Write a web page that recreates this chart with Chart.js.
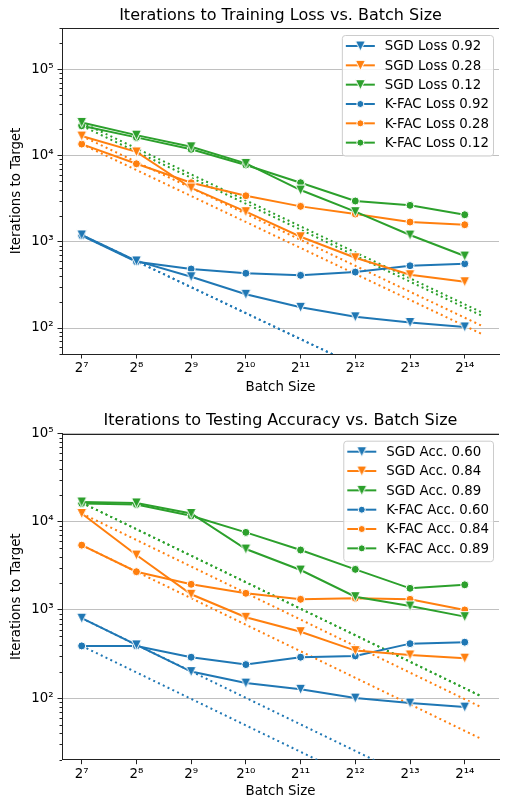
<!DOCTYPE html>
<html>
<head>
<meta charset="utf-8">
<script src="https://cdn.jsdelivr.net/npm/chart.js@4.4.1/dist/chart.umd.min.js"></script>
<style>
  body { margin: 0; background: #fff; }
  canvas { display: block; }
</style>
</head>
<body>
<canvas id="trainChart" width="506" height="400"></canvas>
<canvas id="testChart" width="506" height="400"></canvas>
<script>
// batch size exponents (2^7 ... 2^14)
const batchExp = [7, 8, 9, 10, 11, 12, 13, 14];
const xTickLabels = ["2⁷", "2⁸", "2⁹", "2¹⁰", "2¹¹", "2¹²", "2¹³", "2¹⁴"];
const yTickLabels = { 2: "10²", 3: "10³", 4: "10⁴", 5: "10⁵" };

// ideal-scaling dotted lines run between these two x positions
const idealExp = [7, 14.3];

// top: iterations to training loss
const trainLabels = ["SGD Loss 0.92", "SGD Loss 0.28", "SGD Loss 0.12",
                     "K-FAC Loss 0.92", "K-FAC Loss 0.28", "K-FAC Loss 0.12"];
const sgdLoss092 = [1200, 600, 393, 246, 174, 135, 116, 103];
const sgdLoss028 = [16800, 11000, 4200, 2230, 1143, 653, 415, 344];
const sgdLoss012 = [24150, 17200, 12600, 8090, 3975, 2230, 1196, 683];
const kfacLoss092 = [1175, 586, 483, 431, 408, 445, 527, 556];
const kfacLoss028 = [13550, 8010, 4830, 3410, 2570, 2094, 1692, 1574];
const kfacLoss012 = [22070, 16200, 11780, 7740, 4830, 2965, 2640, 2055];
const idealSgdLoss092 = [1190, 7.55];
const idealSgdLoss028 = [16800, 107];
const idealSgdLoss012 = [24150, 153];
const idealKfacLoss092 = [1190, 7.55];
const idealKfacLoss028 = [13550, 86];
const idealKfacLoss012 = [22070, 140];

// bottom: iterations to testing accuracy
const testLabels = ["SGD Acc. 0.60", "SGD Acc. 0.84", "SGD Acc. 0.89",
                    "K-FAC Acc. 0.60", "K-FAC Acc. 0.84", "K-FAC Acc. 0.89"];
const sgdAcc060 = [806, 402, 200, 148, 126, 100, 88, 79];
const sgdAcc084 = [12450, 4200, 1507, 826, 567, 346, 309, 284];
const sgdAcc089 = [16800, 16400, 12450, 4910, 2840, 1415, 1110, 840];
const kfacAcc060 = [391, 391, 291, 240, 291, 301, 415, 431];
const kfacAcc084 = [5440, 2717, 1955, 1546, 1321, 1356, 1321, 1000];
const kfacAcc089 = [16150, 15730, 11700, 7590, 4790, 2890, 1760, 1930];
const idealSgdAcc060 = [806, 5.1];
const idealSgdAcc084 = [12450, 79];
const idealSgdAcc089 = [16500, 105];
const idealKfacAcc060 = [391, 2.5];
const idealKfacAcc084 = [5440, 34.5];
const idealKfacAcc089 = [16500, 105];

const colors = ["#1f77b4", "#ff7f0e", "#2ca02c"];
const FONT = "'DejaVu Sans', sans-serif";
const SPINE = "#222";

// matplotlib-like "v" marker with a white edge
function triMarker(color) {
  const c = document.createElement("canvas");
  c.width = 13; c.height = 13;
  const g = c.getContext("2d");
  const h = 5;
  g.beginPath();
  g.moveTo(6.5 - h, 6.5 - h);
  g.lineTo(6.5 + h, 6.5 - h);
  g.lineTo(6.5, 6.5 + h);
  g.closePath();
  g.fillStyle = color;
  g.fill();
  g.strokeStyle = "#fff";
  g.lineWidth = 1;
  g.stroke();
  return c;
}
const triMarkers = colors.map(triMarker);

const toPoints = (xs, ys) => xs.map((x, i) => ({ x, y: ys[i] }));

function solid(label, values, ci, sgd) {
  return {
    label,
    inLegend: true,
    data: toPoints(batchExp, values),
    borderColor: colors[ci],
    backgroundColor: colors[ci],
    borderWidth: 2,
    pointStyle: sgd ? triMarkers[ci] : "circle",
    pointRadius: sgd ? 6 : 4,
    pointBackgroundColor: colors[ci],
    pointBorderColor: "#fff",
    pointBorderWidth: 1,
    tension: 0,
    clip: 0,
  };
}

function dotted(values, ci) {
  return {
    label: "",
    data: toPoints(idealExp, values),
    borderColor: colors[ci],
    borderWidth: 2,
    borderDash: [2, 3.3],
    borderCapStyle: "butt",
    pointRadius: 0,
    tension: 0,
    clip: 0,
  };
}

const isPow10 = (v) => {
  const e = Math.log10(v);
  return Math.abs(e - Math.round(e)) < 1e-9;
};

// minor y ticks, top spine and the inset legend
const axesExtras = {
  id: "axesExtras",
  afterDraw(chart) {
    const { ctx, chartArea } = chart;
    const y = chart.scales.y;
    ctx.save();
    ctx.strokeStyle = SPINE;
    ctx.lineWidth = 1;
    ctx.beginPath();
    y.ticks.forEach((t) => {
      if (isPow10(t.value)) return;
      const py = Math.round(y.getPixelForValue(t.value)) + 0.5;
      ctx.moveTo(chartArea.left - 2.5, py);
      ctx.lineTo(chartArea.left, py);
    });
    const top = Math.round(chartArea.top) + 0.5;
    ctx.moveTo(chartArea.left, top);
    ctx.lineTo(chartArea.right, top);
    ctx.stroke();

    // legend
    const items = chart.data.datasets.filter((d) => d.inLegend);
    ctx.font = "13.33px " + FONT;
    const maxW = Math.max(...items.map((d) => ctx.measureText(d.label).width));
    const boxRight = chartArea.right - 6;
    const textX = boxRight - 4 - maxW;
    const boxLeft = textX - 43;
    const boxTop = chartArea.top + 7;
    const rowH = 19.33;
    ctx.beginPath();
    ctx.roundRect(boxLeft + 0.5, boxTop + 0.5, boxRight - boxLeft, 120.5, 3);
    ctx.fillStyle = "rgba(255,255,255,0.8)";
    ctx.fill();
    ctx.strokeStyle = "#cccccc";
    ctx.stroke();
    items.forEach((d, i) => {
      const ry = chartArea.top + 18 + i * rowH;
      ctx.beginPath();
      ctx.strokeStyle = d.borderColor;
      ctx.lineWidth = 2;
      ctx.moveTo(textX - 39, ry);
      ctx.lineTo(textX - 10, ry);
      ctx.stroke();
      const mx = textX - 24.5;
      if (d.pointStyle === "circle") {
        ctx.beginPath();
        ctx.arc(mx, ry, 3.5, 0, Math.PI * 2);
        ctx.fillStyle = d.borderColor;
        ctx.fill();
        ctx.strokeStyle = "#fff";
        ctx.lineWidth = 1;
        ctx.stroke();
      } else {
        ctx.drawImage(d.pointStyle, mx - 6.5, ry - 6.5);
      }
      ctx.fillStyle = "#000";
      ctx.textBaseline = "middle";
      ctx.textAlign = "left";
      ctx.fillText(d.label, textX, ry + 1);
    });
    ctx.restore();
  },
};

function makeChart(id, title, datasets, yMin, yMax, layout) {
  return new Chart(document.getElementById(id), {
    type: "line",
    data: { datasets },
    options: {
      responsive: false,
      animation: false,
      events: [],
      layout: { padding: 0 },
      plugins: {
        legend: { display: false },
        tooltip: { enabled: false },
        title: {
          display: true,
          text: title,
          fullSize: false,
          color: "#000",
          font: { family: FONT, size: 16, weight: "normal" },
          padding: { top: layout.titleTop, bottom: layout.titleBottom },
        },
      },
      scales: {
        x: {
          type: "linear",
          min: 6.64,
          max: 14.626,
          afterBuildTicks: (s) => { s.ticks = batchExp.map((v) => ({ value: v })); },
          afterFit: (s) => { s.height = layout.xHeight; },
          ticks: {
            autoSkip: false,
            maxRotation: 0,
            color: "#000",
            padding: 2,
            font: { family: FONT, size: 13.33 },
            callback: (v) => xTickLabels[batchExp.indexOf(v)],
          },
          grid: { drawOnChartArea: false, tickLength: 4.5, tickColor: SPINE },
          border: { display: true, color: SPINE, width: 1 },
          title: {
            display: true,
            text: "Batch Size",
            color: "#000",
            font: { family: FONT, size: 13.33 },
            padding: { top: 0, bottom: layout.xTitleBottom },
          },
        },
        y: {
          type: "logarithmic",
          min: yMin,
          max: yMax,
          afterBuildTicks: (s) => {
            const ticks = [];
            for (let e = Math.floor(Math.log10(yMin)); e <= Math.ceil(Math.log10(yMax)); e++) {
              for (let m = 1; m <= 9; m++) {
                const v = m * Math.pow(10, e);
                if (v >= yMin && v <= yMax) ticks.push({ value: v });
              }
            }
            s.ticks = ticks;
          },
          afterFit: (s) => { s.width = 62; },
          ticks: {
            autoSkip: false,
            color: "#000",
            padding: 4,
            font: { family: FONT, size: 13.33 },
            callback: (v) => (isPow10(v) ? yTickLabels[Math.round(Math.log10(v))] : ""),
          },
          grid: {
            tickLength: 4.5,
            color: (c) => (c.tick && isPow10(c.tick.value) ? "#c0c0c0" : "rgba(0,0,0,0)"),
            tickColor: (c) => (c.tick && isPow10(c.tick.value) ? SPINE : "rgba(0,0,0,0)"),
            lineWidth: 1,
          },
          border: { display: true, color: SPINE, width: 1 },
          title: {
            display: true,
            text: "Iterations to Target",
            color: "#000",
            font: { family: FONT, size: 13.33 },
            padding: { top: 9, bottom: 0 },
          },
        },
      },
    },
    plugins: [axesExtras],
  });
}

makeChart("trainChart", "Iterations to Training Loss vs. Batch Size", [
  solid(trainLabels[0], sgdLoss092, 0, true),
  solid(trainLabels[1], sgdLoss028, 1, true),
  solid(trainLabels[2], sgdLoss012, 2, true),
  solid(trainLabels[3], kfacLoss092, 0, false),
  solid(trainLabels[4], kfacLoss028, 1, false),
  solid(trainLabels[5], kfacLoss012, 2, false),
  dotted(idealSgdLoss092, 0),
  dotted(idealSgdLoss028, 1),
  dotted(idealSgdLoss012, 2),
  dotted(idealKfacLoss092, 0),
  dotted(idealKfacLoss028, 1),
  dotted(idealKfacLoss012, 2),
], 50, 300000, { titleTop: 5.9, titleBottom: 2.9, xHeight: 46, xTitleBottom: 4.3 });

makeChart("testChart", "Iterations to Testing Accuracy vs. Batch Size", [
  solid(testLabels[0], sgdAcc060, 0, true),
  solid(testLabels[1], sgdAcc084, 1, true),
  solid(testLabels[2], sgdAcc089, 2, true),
  solid(testLabels[3], kfacAcc060, 0, false),
  solid(testLabels[4], kfacAcc084, 1, false),
  solid(testLabels[5], kfacAcc089, 2, false),
  dotted(idealSgdAcc060, 0),
  dotted(idealSgdAcc084, 1),
  dotted(idealSgdAcc089, 2),
  dotted(idealKfacAcc060, 0),
  dotted(idealKfacAcc084, 1),
  dotted(idealKfacAcc089, 2),
], 20, 100000, { titleTop: 11.2, titleBottom: 3.3, xHeight: 40.3, xTitleBottom: 0.3 });
</script>
</body>
</html>
